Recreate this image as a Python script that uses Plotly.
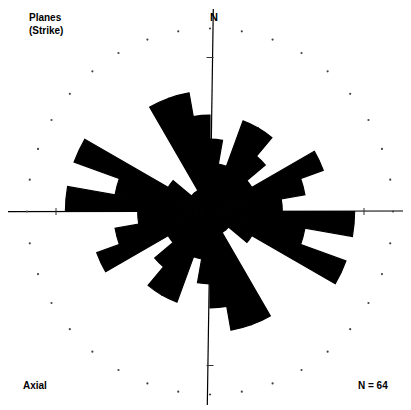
import plotly.graph_objects as go

# Strike bins (10 degree bins, 0-180), axial data mirrored to 180-360
bin_starts = [0, 10, 20, 30, 40, 50, 60, 70, 80, 90, 100, 110, 120, 130, 140, 150, 160, 170]
counts = [3, 2, 4, 4, 3, 2, 5, 4, 3, 6, 4, 6, 2, 1, 1, 5, 5, 4]
dot_angles = list(range(0, 360, 10))

OFF = 8  # browser body margin
W, H = 411 - OFF, 410 - OFF
CX, CY = 210.0, 211.5
UNIT = 24.1           # pixels per count
RDISK = 195.0         # polar disk radius in pixels
RMAX = RDISK / UNIT

theta = [b + 5 for b in bin_starts] + [b + 185 for b in bin_starts]
rvals = counts + counts

fig = go.Figure()
fig.add_trace(go.Barpolar(
    r=rvals, theta=theta, width=[10] * len(theta),
    marker=dict(color="black", line=dict(color="black", width=1.2)),
    hoverinfo="skip", showlegend=False,
))
# dotted outer circle
fig.add_trace(go.Scatterpolar(
    r=[183 / UNIT] * len(dot_angles), theta=dot_angles, mode="markers",
    marker=dict(symbol="circle", size=2.2, color="#444444"),
    hoverinfo="skip", showlegend=False,
))
# ticks on the axes
fig.add_trace(go.Scatterpolar(
    r=[154 / UNIT] * 2, theta=[0, 180], mode="markers",
    marker=dict(symbol="line-ew", size=5, color="#333333", line=dict(width=1, color="#333333")),
    hoverinfo="skip", showlegend=False,
))
fig.add_trace(go.Scatterpolar(
    r=[154 / UNIT] * 2, theta=[90, 270], mode="markers",
    marker=dict(symbol="line-ns", size=5, color="#333333", line=dict(width=1, color="#333333")),
    hoverinfo="skip", showlegend=False,
))

def px(x):
    return (x - OFF) / W

def py(y):
    return 1 - (y - OFF) / H

fig.update_layout(
    width=W, height=H,
    margin=dict(l=0, r=0, t=0, b=0),
    paper_bgcolor="white",
    polar=dict(
        domain=dict(x=[px(CX - RDISK), px(CX + RDISK)], y=[py(CY + RDISK), py(CY - RDISK)]),
        bgcolor="rgba(0,0,0,0)",
        bargap=0,
        radialaxis=dict(visible=False, range=[0, RMAX]),
        angularaxis=dict(visible=False, direction="clockwise", rotation=90),
    ),
    shapes=[
        dict(type="line", xref="paper", yref="paper", x0=px(8), x1=px(408), y0=py(211.7), y1=py(211.0),
             line=dict(color="black", width=1.2), layer="below"),
        dict(type="line", xref="paper", yref="paper", x0=px(213.3), x1=px(207.3), y0=py(9), y1=py(405),
             line=dict(color="black", width=1.2), layer="below"),
    ],
    annotations=[
        dict(text="<b>Planes<br>(Strike)</b>", x=px(27), y=py(10), xref="paper", yref="paper",
             xanchor="left", yanchor="top", align="left", showarrow=False,
             font=dict(family="Liberation Sans, Arial", size=10, color="black")),
        dict(text="<b>N</b>", x=px(214), y=py(9), xref="paper", yref="paper",
             xanchor="center", yanchor="top", showarrow=False,
             font=dict(family="Liberation Sans, Arial", size=11, color="black")),
        dict(text="<b>Axial</b>", x=px(21), y=py(385), xref="paper", yref="paper",
             xanchor="left", yanchor="middle", showarrow=False,
             font=dict(family="Liberation Sans, Arial", size=10, color="black")),
        dict(text="<b>N = 64</b>", x=px(390), y=py(385), xref="paper", yref="paper",
             xanchor="right", yanchor="middle", showarrow=False,
             font=dict(family="Liberation Sans, Arial", size=10, color="black")),
    ],
)

fig.write_html("out.html")
